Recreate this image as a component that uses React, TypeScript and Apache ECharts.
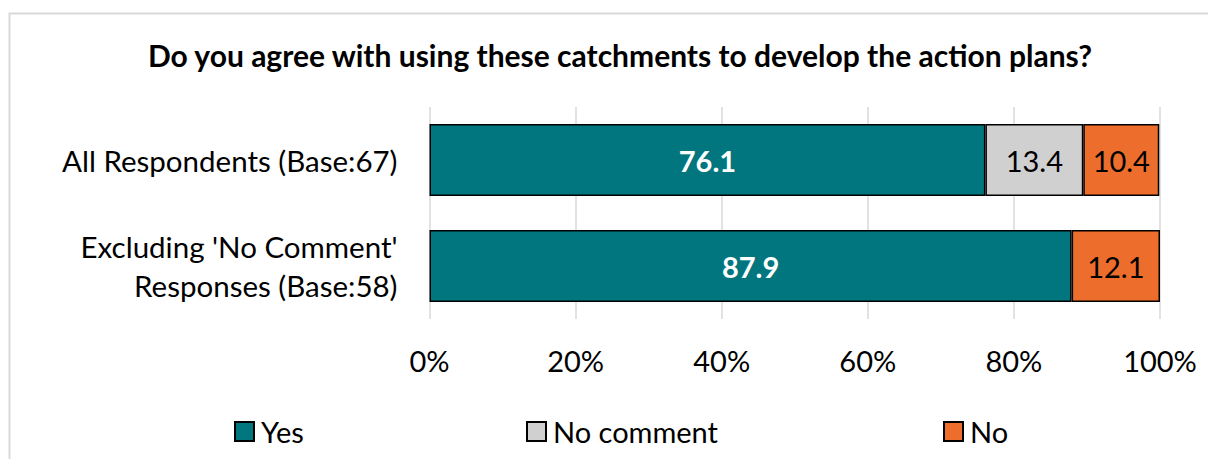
import React, { useEffect, useRef } from "react";
import * as echarts from "echarts";

const categories = ["All Respondents (Base:67)", "Excluding 'No Comment'\nResponses (Base:58)"];
const yesValues = [76.1, 87.9];
const noCommentValues = [13.4, null];
const noValues = [10.4, 12.1];
const tickLabels = ["0%", "20%", "40%", "60%", "80%", "100%"];
const seriesNames = ["Yes", "No comment", "No"];

const FONT = "Lato";

export default function App() {
  const ref = useRef<HTMLDivElement>(null);
  useEffect(() => {
    if (!ref.current) return;
    const chart = echarts.init(ref.current, undefined, { renderer: "svg" });
    const label = (color: string, bold: boolean) => ({
      show: true,
      position: "inside",
      color,
      fontFamily: FONT,
      fontSize: 29,
      fontWeight: bold ? "bold" : "normal",
      formatter: (p: any) => (p.value == null ? "" : Number(p.value).toFixed(1)),
    });
    const border = { borderColor: "#000", borderWidth: 1.5 };
    const legendBase = {
      top: 417,
      padding: 0,
      itemWidth: 19,
      itemHeight: 19,
      itemGap: 0,
      icon: "rect",
      textStyle: { fontFamily: FONT, fontSize: 29, color: "#000", padding: [0, 0, 0, 2] },
      selectedMode: false,
    };
    chart.setOption({
      animation: false,
      backgroundColor: "#fff",
      title: {
        text: "Do you agree with using these catchments to develop the action plans?",
        left: 615,
        textAlign: "center",
        top: 35,
        textStyle: { fontFamily: FONT, fontSize: 30, fontWeight: "bold", color: "#000" },
      },
      graphic: [
        {
          type: "rect",
          shape: { x: 9.5, y: 13.5, width: 1400, height: 600 },
          style: { fill: "none", stroke: "#d9d9d9", lineWidth: 2 },
          silent: true,
        },
      ],
      legend: [
        { ...legendBase, left: 234, data: [seriesNames[0]] },
        { ...legendBase, left: 526, data: [seriesNames[1]] },
        { ...legendBase, left: 943, data: [seriesNames[2]] },
      ],
      grid: { left: 429.5, top: 107, width: 730.5, height: 212, containLabel: false },
      xAxis: {
        type: "value",
        min: 0,
        max: 100,
        interval: 20,
        axisLabel: {
          formatter: (v: number) => tickLabels[Math.round(v / 20)],
          fontFamily: FONT,
          fontSize: 29,
          color: "#000",
          margin: 27,
        },
        axisLine: { show: false },
        axisTick: { show: false },
        splitLine: { show: true, lineStyle: { color: "#d9d9d9", width: 1.5 } },
      },
      yAxis: {
        type: "category",
        inverse: true,
        data: categories,
        axisLabel: {
          fontFamily: FONT,
          fontSize: 29.5,
          color: "#000",
          margin: 32,
          lineHeight: 39,
          align: "right",
        },
        axisLine: { show: false },
        axisTick: { show: false },
      },
      series: [
        {
          name: seriesNames[0],
          type: "bar",
          stack: "s",
          barWidth: 72,
          data: yesValues,
          itemStyle: { color: "#02767E", ...border },
          label: label("#fff", true),
        },
        {
          name: seriesNames[1],
          type: "bar",
          stack: "s",
          barWidth: 72,
          data: noCommentValues,
          itemStyle: { color: "#D0D0D0", ...border },
          label: label("#000", false),
        },
        {
          name: seriesNames[2],
          type: "bar",
          stack: "s",
          barWidth: 72,
          data: noValues,
          itemStyle: { color: "#ED6D2C", ...border },
          label: label("#000", false),
        },
      ],
    });
    return () => chart.dispose();
  }, []);
  return (
    <div
      ref={ref}
      style={{ position: "fixed", left: 0, top: 0, width: 1208, height: 459 }}
    />
  );
}
